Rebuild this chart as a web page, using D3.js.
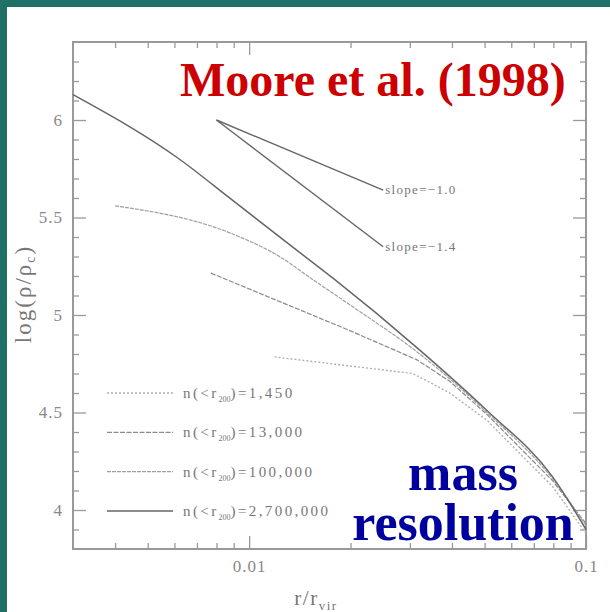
<!DOCTYPE html>
<html>
<head>
<meta charset="utf-8">
<script src="https://cdn.jsdelivr.net/npm/d3@7"></script>
<style>
  body { margin: 0; background: #fff; }
  svg { display: block; }
</style>
</head>
<body>
<div class="chart"></div>
<script>
// density profiles, log(rho/rho_c) against r/r_vir
var profile2700k = [[0.003, 6.13], [0.0062, 5.80], [0.0089, 5.59], [0.0139, 5.33], [0.0177, 5.19],
  [0.0321, 4.82], [0.0508, 4.51], [0.0796, 4.17], [0.1, 3.90]];
var profile100k = [[0.004, 5.56], [0.0088, 5.42], [0.0123, 5.30], [0.0155, 5.18], [0.02, 5.05],
  [0.0321, 4.80], [0.0508, 4.50], [0.0796, 4.16], [0.1, 3.92]];
var profile13k = [[0.0077, 5.215], [0.0199, 4.92], [0.0315, 4.77], [0.0394, 4.66],
  [0.0508, 4.49], [0.0796, 4.15], [0.1, 3.93]];
var profile1450 = [[0.0119, 4.785], [0.0306, 4.70], [0.0394, 4.60], [0.0508, 4.46],
  [0.0796, 4.12], [0.1, 3.88]];

// reference slopes
var slope10 = [[0.008, 6.0], [0.025, 5.64]];
var slope14 = [[0.008, 6.0], [0.025, 5.35]];
var slopeLabels = ["slope=\u22121.0", "slope=\u22121.4"];

var legendCounts = ["1,450", "13,000", "100,000", "2,700,000"];

var xMajor = [0.01, 0.1];
var xMinor = [0.004, 0.005, 0.006, 0.007, 0.008, 0.009, 0.02, 0.03, 0.04, 0.05, 0.06, 0.07, 0.08, 0.09];
var yMajor = [4, 4.5, 5, 5.5, 6];
var yMinor = [3.9, 4.1, 4.2, 4.3, 4.4, 4.6, 4.7, 4.8, 4.9, 5.1, 5.2, 5.3, 5.4, 5.6, 5.7, 5.8, 5.9, 6.1, 6.2, 6.3];

var svgWidth = 610;
var svgHeight = 612;

var margin = { top: 42, left: 73, right: 24, bottom: 63 };
var width = svgWidth - margin.left - margin.right;
var height = svgHeight - margin.top - margin.bottom;

var svg = d3.select(".chart").append("svg")
  .attr("width", svgWidth)
  .attr("height", svgHeight);

// teal slide border
svg.append("rect").attr("x", 0).attr("y", 0).attr("width", svgWidth).attr("height", 7).attr("fill", "#1f7067");
svg.append("rect").attr("x", 0).attr("y", 0).attr("width", 7).attr("height", svgHeight).attr("fill", "#1f7067");

var chartGroup = svg.append("g")
  .attr("transform", `translate(${margin.left}, ${margin.top})`);

var x = d3.scaleLog().domain([0.003, 0.1]).range([0, width]);
var y = d3.scaleLinear().domain([3.8, 6.4]).range([height, 0]);

var axisColor = "#999";
var labelFont = "'Liberation Serif', 'DejaVu Serif', serif";

function styleAxis(g) {
  g.select(".domain").remove();
  g.selectAll("line").attr("stroke", axisColor).attr("stroke-width", 1.3);
  g.selectAll("text").attr("fill", "#888").style("font-family", labelFont)
    .style("font-size", "17px").style("letter-spacing", "1px");
}

// bottom + top
chartGroup.append("g").attr("transform", `translate(0, ${height})`)
  .call(d3.axisBottom(x).tickValues(xMajor).tickSizeInner(-13).tickPadding(11)
    .tickFormat(d3.format("")))
  .call(styleAxis);
chartGroup.append("g").attr("transform", `translate(0, ${height})`)
  .call(d3.axisBottom(x).tickValues(xMinor).tickSize(-6).tickFormat(""))
  .call(styleAxis);
chartGroup.append("g")
  .call(d3.axisTop(x).tickValues(xMajor).tickSize(-13).tickFormat(""))
  .call(styleAxis);
chartGroup.append("g")
  .call(d3.axisTop(x).tickValues(xMinor).tickSize(-6).tickFormat(""))
  .call(styleAxis);

// left + right
chartGroup.append("g")
  .call(d3.axisLeft(y).tickValues(yMajor).tickSizeInner(-13).tickPadding(10)
    .tickFormat(d3.format("")))
  .call(styleAxis);
chartGroup.append("g")
  .call(d3.axisLeft(y).tickValues(yMinor).tickSize(-6).tickFormat(""))
  .call(styleAxis);
chartGroup.append("g").attr("transform", `translate(${width}, 0)`)
  .call(d3.axisRight(y).tickValues(yMajor).tickSize(-13).tickFormat(""))
  .call(styleAxis);
chartGroup.append("g").attr("transform", `translate(${width}, 0)`)
  .call(d3.axisRight(y).tickValues(yMinor).tickSize(-6).tickFormat(""))
  .call(styleAxis);

// frame
chartGroup.append("rect")
  .attr("width", width).attr("height", height)
  .attr("fill", "none").attr("stroke", axisColor).attr("stroke-width", 2);

// curves
var smooth = d3.line().x((d) => x(d[0])).y((d) => y(d[1])).curve(d3.curveMonotoneX);
var straight = d3.line().x((d) => x(d[0])).y((d) => y(d[1]));

var series = [
  { data: profile1450, color: "#b0b0b0", width: 1.4, dash: "2,2", smooth: false },
  { data: profile13k, color: "#8a8a8a", width: 1.2, dash: "5,1.5", smooth: false },
  { data: profile100k, color: "#a0a0a0", width: 1.2, dash: "4,1", smooth: true },
  { data: profile2700k, color: "#666", width: 1.5, dash: null, smooth: true },
];

chartGroup.selectAll(".profile")
  .data(series)
  .enter()
  .append("path")
  .attr("class", "profile")
  .attr("d", (d) => (d.smooth ? smooth(d.data) : straight(d.data)))
  .attr("fill", "none")
  .attr("stroke", (d) => d.color)
  .attr("stroke-width", (d) => d.width)
  .attr("stroke-dasharray", (d) => d.dash);

chartGroup.selectAll(".slope")
  .data([slope10, slope14])
  .enter()
  .append("path")
  .attr("class", "slope")
  .attr("d", (d) => straight(d))
  .attr("fill", "none")
  .attr("stroke", "#666")
  .attr("stroke-width", 1.4);

chartGroup.selectAll(".slope-label")
  .data([slope10, slope14])
  .enter()
  .append("text")
  .attr("x", (d) => x(d[1][0]) + 2)
  .attr("y", (d) => y(d[1][1]) + 4)
  .attr("fill", "#777")
  .style("font-family", labelFont)
  .style("font-size", "13px")
  .style("letter-spacing", "1.3px")
  .text((d, i) => slopeLabels[i]);

// legend
var legend = chartGroup.selectAll(".legend")
  .data(series)
  .enter()
  .append("g")
  .attr("class", "legend")
  .attr("transform", (d, i) => `translate(34, ${351 + i * 39.3})`);

legend.append("line")
  .attr("x1", 0).attr("x2", 66)
  .attr("stroke", (d) => d.color)
  .attr("stroke-width", (d) => d.width)
  .attr("stroke-dasharray", (d) => d.dash);

var legendText = legend.append("text")
  .attr("x", 76).attr("y", 5)
  .attr("fill", "#777")
  .style("font-family", labelFont)
  .style("font-size", "15px")
  .style("letter-spacing", "2.4px");
legendText.append("tspan").text("n(<r");
legendText.append("tspan").attr("font-size", "8px").attr("dy", 4)
  .style("letter-spacing", "0px").text("200");
legendText.append("tspan").attr("dy", -4).text((d, i) => ")=" + legendCounts[i]);

// axis titles
var yTitle = svg.append("text")
  .attr("transform", "translate(31, 294) rotate(-90)")
  .attr("text-anchor", "middle")
  .attr("fill", "#777")
  .style("font-family", labelFont)
  .style("font-size", "23px")
  .style("letter-spacing", "2px");
yTitle.append("tspan").text("log(\u03c1/\u03c1");
yTitle.append("tspan").attr("font-size", "14px").attr("dy", 4).text("c");
yTitle.append("tspan").attr("dy", -4).text(")");

var xTitle = svg.append("text")
  .attr("x", 316).attr("y", 605)
  .attr("text-anchor", "middle")
  .attr("fill", "#777")
  .style("font-family", labelFont)
  .style("font-size", "21px")
  .style("letter-spacing", "1.5px");
xTitle.append("tspan").text("r/r");
xTitle.append("tspan").attr("font-size", "13px").attr("dy", 5).text("vir");

// annotations
svg.append("text")
  .attr("x", 180).attr("y", 96)
  .attr("fill", "#cc0000")
  .style("font-family", "'Liberation Serif', serif")
  .style("font-weight", "bold")
  .style("font-size", "48px")
  .text("Moore et al. (1998)");

svg.append("text")
  .attr("x", 463).attr("y", 490)
  .attr("text-anchor", "middle")
  .attr("fill", "#00009e")
  .style("font-family", "'Liberation Serif', serif")
  .style("font-weight", "bold")
  .style("font-size", "52px")
  .text("mass");

svg.append("text")
  .attr("x", 463).attr("y", 540)
  .attr("text-anchor", "middle")
  .attr("fill", "#00009e")
  .style("font-family", "'Liberation Serif', serif")
  .style("font-weight", "bold")
  .style("font-size", "52px")
  .text("resolution");
</script>
</body>
</html>
